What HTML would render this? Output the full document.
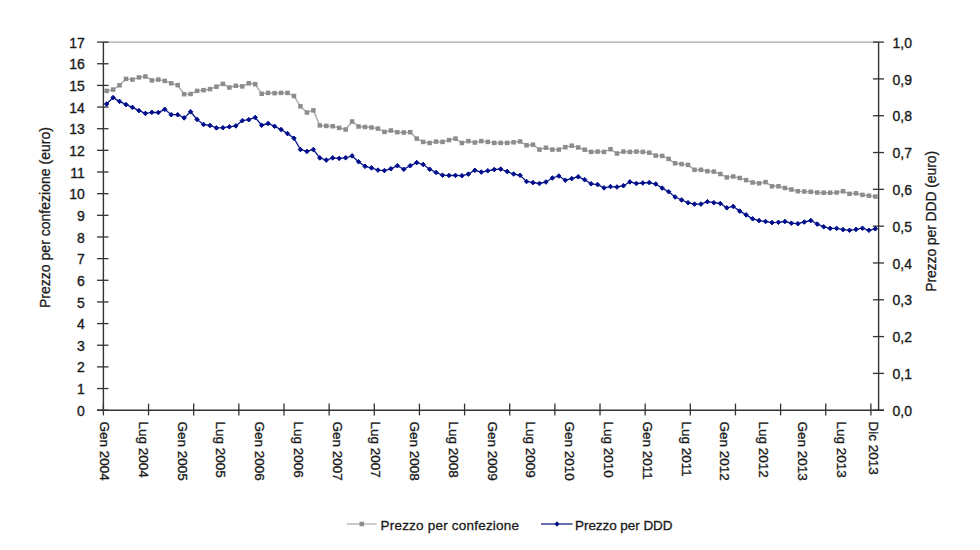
<!DOCTYPE html><html><head><meta charset="utf-8"><style>html,body{margin:0;padding:0;background:#fff;}svg{display:block;}text{font-family:"Liberation Sans",sans-serif;fill:#1a1a1a;}.t{stroke:#1a1a1a;stroke-width:0.35px;}.b{stroke:#1a1a1a;stroke-width:0.3px;}</style></head><body>
<svg width="980" height="550" viewBox="0 0 980 550">
<rect width="980" height="550" fill="#fff"/>
<line x1="103.4" y1="42.1" x2="878.6" y2="42.1" stroke="#a8a8a8" stroke-width="1.3"/>
<line x1="103.4" y1="42.1" x2="103.4" y2="410.2" stroke="#333" stroke-width="1.4"/>
<line x1="878.6" y1="42.1" x2="878.6" y2="410.2" stroke="#333" stroke-width="1.4"/>
<line x1="97" y1="410.2" x2="884" y2="410.2" stroke="#333" stroke-width="1.4"/>
<line x1="97" y1="410.20" x2="108.5" y2="410.20" stroke="#333" stroke-width="1.3"/>
<text x="84.9" y="415.80" font-size="14" text-anchor="end" class="t">0</text>
<line x1="97" y1="388.55" x2="108.5" y2="388.55" stroke="#333" stroke-width="1.3"/>
<text x="84.9" y="394.15" font-size="14" text-anchor="end" class="t">1</text>
<line x1="97" y1="366.89" x2="108.5" y2="366.89" stroke="#333" stroke-width="1.3"/>
<text x="84.9" y="372.49" font-size="14" text-anchor="end" class="t">2</text>
<line x1="97" y1="345.24" x2="108.5" y2="345.24" stroke="#333" stroke-width="1.3"/>
<text x="84.9" y="350.84" font-size="14" text-anchor="end" class="t">3</text>
<line x1="97" y1="323.59" x2="108.5" y2="323.59" stroke="#333" stroke-width="1.3"/>
<text x="84.9" y="329.19" font-size="14" text-anchor="end" class="t">4</text>
<line x1="97" y1="301.94" x2="108.5" y2="301.94" stroke="#333" stroke-width="1.3"/>
<text x="84.9" y="307.54" font-size="14" text-anchor="end" class="t">5</text>
<line x1="97" y1="280.28" x2="108.5" y2="280.28" stroke="#333" stroke-width="1.3"/>
<text x="84.9" y="285.88" font-size="14" text-anchor="end" class="t">6</text>
<line x1="97" y1="258.63" x2="108.5" y2="258.63" stroke="#333" stroke-width="1.3"/>
<text x="84.9" y="264.23" font-size="14" text-anchor="end" class="t">7</text>
<line x1="97" y1="236.98" x2="108.5" y2="236.98" stroke="#333" stroke-width="1.3"/>
<text x="84.9" y="242.58" font-size="14" text-anchor="end" class="t">8</text>
<line x1="97" y1="215.32" x2="108.5" y2="215.32" stroke="#333" stroke-width="1.3"/>
<text x="84.9" y="220.92" font-size="14" text-anchor="end" class="t">9</text>
<line x1="97" y1="193.67" x2="108.5" y2="193.67" stroke="#333" stroke-width="1.3"/>
<text x="84.9" y="199.27" font-size="14" text-anchor="end" class="t">10</text>
<line x1="97" y1="172.02" x2="108.5" y2="172.02" stroke="#333" stroke-width="1.3"/>
<text x="84.9" y="177.62" font-size="14" text-anchor="end" class="t">11</text>
<line x1="97" y1="150.36" x2="108.5" y2="150.36" stroke="#333" stroke-width="1.3"/>
<text x="84.9" y="155.96" font-size="14" text-anchor="end" class="t">12</text>
<line x1="97" y1="128.71" x2="108.5" y2="128.71" stroke="#333" stroke-width="1.3"/>
<text x="84.9" y="134.31" font-size="14" text-anchor="end" class="t">13</text>
<line x1="97" y1="107.06" x2="108.5" y2="107.06" stroke="#333" stroke-width="1.3"/>
<text x="84.9" y="112.66" font-size="14" text-anchor="end" class="t">14</text>
<line x1="97" y1="85.41" x2="108.5" y2="85.41" stroke="#333" stroke-width="1.3"/>
<text x="84.9" y="91.01" font-size="14" text-anchor="end" class="t">15</text>
<line x1="97" y1="63.75" x2="108.5" y2="63.75" stroke="#333" stroke-width="1.3"/>
<text x="84.9" y="69.35" font-size="14" text-anchor="end" class="t">16</text>
<line x1="97" y1="42.10" x2="108.5" y2="42.10" stroke="#333" stroke-width="1.3"/>
<text x="84.9" y="47.70" font-size="14" text-anchor="end" class="t">17</text>
<line x1="873" y1="410.20" x2="884" y2="410.20" stroke="#333" stroke-width="1.3"/>
<text x="892.5" y="415.80" font-size="14" class="t">0,0</text>
<line x1="873" y1="373.39" x2="884" y2="373.39" stroke="#333" stroke-width="1.3"/>
<text x="892.5" y="378.99" font-size="14" class="t">0,1</text>
<line x1="873" y1="336.58" x2="884" y2="336.58" stroke="#333" stroke-width="1.3"/>
<text x="892.5" y="342.18" font-size="14" class="t">0,2</text>
<line x1="873" y1="299.77" x2="884" y2="299.77" stroke="#333" stroke-width="1.3"/>
<text x="892.5" y="305.37" font-size="14" class="t">0,3</text>
<line x1="873" y1="262.96" x2="884" y2="262.96" stroke="#333" stroke-width="1.3"/>
<text x="892.5" y="268.56" font-size="14" class="t">0,4</text>
<line x1="873" y1="226.15" x2="884" y2="226.15" stroke="#333" stroke-width="1.3"/>
<text x="892.5" y="231.75" font-size="14" class="t">0,5</text>
<line x1="873" y1="189.34" x2="884" y2="189.34" stroke="#333" stroke-width="1.3"/>
<text x="892.5" y="194.94" font-size="14" class="t">0,6</text>
<line x1="873" y1="152.53" x2="884" y2="152.53" stroke="#333" stroke-width="1.3"/>
<text x="892.5" y="158.13" font-size="14" class="t">0,7</text>
<line x1="873" y1="115.72" x2="884" y2="115.72" stroke="#333" stroke-width="1.3"/>
<text x="892.5" y="121.32" font-size="14" class="t">0,8</text>
<line x1="873" y1="78.91" x2="884" y2="78.91" stroke="#333" stroke-width="1.3"/>
<text x="892.5" y="84.51" font-size="14" class="t">0,9</text>
<line x1="873" y1="42.10" x2="884" y2="42.10" stroke="#333" stroke-width="1.3"/>
<text x="892.5" y="47.70" font-size="14" class="t">1,0</text>
<line x1="103.40" y1="403.6" x2="103.40" y2="415.4" stroke="#333" stroke-width="1.3"/>
<line x1="148.55" y1="403.6" x2="148.55" y2="415.4" stroke="#333" stroke-width="1.3"/>
<line x1="193.69" y1="403.6" x2="193.69" y2="415.4" stroke="#333" stroke-width="1.3"/>
<line x1="238.84" y1="403.6" x2="238.84" y2="415.4" stroke="#333" stroke-width="1.3"/>
<line x1="283.99" y1="403.6" x2="283.99" y2="415.4" stroke="#333" stroke-width="1.3"/>
<line x1="329.14" y1="403.6" x2="329.14" y2="415.4" stroke="#333" stroke-width="1.3"/>
<line x1="374.28" y1="403.6" x2="374.28" y2="415.4" stroke="#333" stroke-width="1.3"/>
<line x1="419.43" y1="403.6" x2="419.43" y2="415.4" stroke="#333" stroke-width="1.3"/>
<line x1="464.58" y1="403.6" x2="464.58" y2="415.4" stroke="#333" stroke-width="1.3"/>
<line x1="509.72" y1="403.6" x2="509.72" y2="415.4" stroke="#333" stroke-width="1.3"/>
<line x1="554.87" y1="403.6" x2="554.87" y2="415.4" stroke="#333" stroke-width="1.3"/>
<line x1="600.02" y1="403.6" x2="600.02" y2="415.4" stroke="#333" stroke-width="1.3"/>
<line x1="645.16" y1="403.6" x2="645.16" y2="415.4" stroke="#333" stroke-width="1.3"/>
<line x1="690.31" y1="403.6" x2="690.31" y2="415.4" stroke="#333" stroke-width="1.3"/>
<line x1="735.46" y1="403.6" x2="735.46" y2="415.4" stroke="#333" stroke-width="1.3"/>
<line x1="780.61" y1="403.6" x2="780.61" y2="415.4" stroke="#333" stroke-width="1.3"/>
<line x1="825.75" y1="403.6" x2="825.75" y2="415.4" stroke="#333" stroke-width="1.3"/>
<line x1="870.90" y1="403.6" x2="870.90" y2="415.4" stroke="#333" stroke-width="1.3"/>
<text transform="translate(100.13,421.5) rotate(90)" font-size="13.5" class="t">Gen 2004</text>
<text transform="translate(138.89,421.5) rotate(90)" font-size="13.5" class="t">Lug 2004</text>
<text transform="translate(177.65,421.5) rotate(90)" font-size="13.5" class="t">Gen 2005</text>
<text transform="translate(216.41,421.5) rotate(90)" font-size="13.5" class="t">Lug 2005</text>
<text transform="translate(255.17,421.5) rotate(90)" font-size="13.5" class="t">Gen 2006</text>
<text transform="translate(293.93,421.5) rotate(90)" font-size="13.5" class="t">Lug 2006</text>
<text transform="translate(332.69,421.5) rotate(90)" font-size="13.5" class="t">Gen 2007</text>
<text transform="translate(371.45,421.5) rotate(90)" font-size="13.5" class="t">Lug 2007</text>
<text transform="translate(410.21,421.5) rotate(90)" font-size="13.5" class="t">Gen 2008</text>
<text transform="translate(448.97,421.5) rotate(90)" font-size="13.5" class="t">Lug 2008</text>
<text transform="translate(487.73,421.5) rotate(90)" font-size="13.5" class="t">Gen 2009</text>
<text transform="translate(526.49,421.5) rotate(90)" font-size="13.5" class="t">Lug 2009</text>
<text transform="translate(565.25,421.5) rotate(90)" font-size="13.5" class="t">Gen 2010</text>
<text transform="translate(604.01,421.5) rotate(90)" font-size="13.5" class="t">Lug 2010</text>
<text transform="translate(642.77,421.5) rotate(90)" font-size="13.5" class="t">Gen 2011</text>
<text transform="translate(681.53,421.5) rotate(90)" font-size="13.5" class="t">Lug 2011</text>
<text transform="translate(720.29,421.5) rotate(90)" font-size="13.5" class="t">Gen 2012</text>
<text transform="translate(759.05,421.5) rotate(90)" font-size="13.5" class="t">Lug 2012</text>
<text transform="translate(797.81,421.5) rotate(90)" font-size="13.5" class="t">Gen 2013</text>
<text transform="translate(836.57,421.5) rotate(90)" font-size="13.5" class="t">Lug 2013</text>
<text transform="translate(868.87,421.5) rotate(90)" font-size="13.5" class="t">Dic 2013</text>
<text transform="translate(50.4,217.55) rotate(-90)" font-size="14" class="b" text-anchor="middle" textLength="181" lengthAdjust="spacing">Prezzo per confezione (euro)</text>
<text transform="translate(936.2,221.35) rotate(-90)" font-size="14" class="b" text-anchor="middle" textLength="141" lengthAdjust="spacing">Prezzo per DDD (euro)</text>
<polyline points="106.63,90.90 113.09,89.60 119.55,85.30 126.01,78.90 132.47,79.60 138.93,77.40 145.39,76.50 151.85,80.40 158.31,79.60 164.77,80.90 171.23,83.30 177.69,85.10 184.15,94.20 190.61,94.00 197.07,90.90 203.53,90.20 209.99,89.10 216.45,86.70 222.91,83.90 229.37,87.50 235.83,85.80 242.29,86.40 248.75,83.30 255.21,84.20 261.67,93.80 268.13,92.90 274.59,93.20 281.05,92.90 287.51,92.90 293.97,96.00 300.43,106.30 306.89,112.50 313.35,110.40 319.81,125.40 326.27,125.90 332.73,126.20 339.19,127.90 345.65,129.50 352.11,121.50 358.57,126.50 365.03,127.00 371.49,127.50 377.95,128.60 384.41,131.90 390.87,130.50 397.33,132.20 403.79,132.50 410.25,132.20 416.71,138.60 423.17,141.90 429.63,143.00 436.09,141.60 442.55,141.90 449.01,140.10 455.47,138.60 461.93,143.00 468.39,141.10 474.85,142.50 481.31,141.10 487.77,141.90 494.23,142.90 500.69,142.90 507.15,142.90 513.61,142.30 520.07,141.50 526.53,145.30 532.99,144.70 539.45,149.60 545.91,147.70 552.37,149.60 558.83,149.60 565.29,147.20 571.75,145.70 578.21,147.50 584.67,149.70 591.13,151.90 597.59,151.60 604.05,151.90 610.51,149.20 616.97,153.50 623.43,151.60 629.89,151.90 636.35,151.60 642.81,151.90 649.27,152.70 655.73,155.60 662.19,155.90 668.65,158.90 675.11,163.30 681.57,164.10 688.03,164.90 694.49,169.80 700.95,169.80 707.41,171.20 713.87,171.60 720.33,174.00 726.79,177.40 733.25,176.50 739.71,178.00 746.17,180.10 752.63,182.50 759.09,183.30 765.55,182.10 772.01,186.30 778.47,186.30 784.93,188.00 791.39,189.50 797.85,191.20 804.31,191.50 810.77,191.80 817.23,192.50 823.69,192.70 830.15,192.70 836.61,192.50 843.07,191.30 849.53,193.90 855.99,193.30 862.45,194.90 868.91,195.70 875.37,196.60" fill="none" stroke="#a8a8a8" stroke-width="1.4"/>
<rect x="104.38" y="88.65" width="4.5" height="4.5" fill="#8c8c8c"/>
<rect x="110.84" y="87.35" width="4.5" height="4.5" fill="#8c8c8c"/>
<rect x="117.30" y="83.05" width="4.5" height="4.5" fill="#8c8c8c"/>
<rect x="123.76" y="76.65" width="4.5" height="4.5" fill="#8c8c8c"/>
<rect x="130.22" y="77.35" width="4.5" height="4.5" fill="#8c8c8c"/>
<rect x="136.68" y="75.15" width="4.5" height="4.5" fill="#8c8c8c"/>
<rect x="143.14" y="74.25" width="4.5" height="4.5" fill="#8c8c8c"/>
<rect x="149.60" y="78.15" width="4.5" height="4.5" fill="#8c8c8c"/>
<rect x="156.06" y="77.35" width="4.5" height="4.5" fill="#8c8c8c"/>
<rect x="162.52" y="78.65" width="4.5" height="4.5" fill="#8c8c8c"/>
<rect x="168.98" y="81.05" width="4.5" height="4.5" fill="#8c8c8c"/>
<rect x="175.44" y="82.85" width="4.5" height="4.5" fill="#8c8c8c"/>
<rect x="181.90" y="91.95" width="4.5" height="4.5" fill="#8c8c8c"/>
<rect x="188.36" y="91.75" width="4.5" height="4.5" fill="#8c8c8c"/>
<rect x="194.82" y="88.65" width="4.5" height="4.5" fill="#8c8c8c"/>
<rect x="201.28" y="87.95" width="4.5" height="4.5" fill="#8c8c8c"/>
<rect x="207.74" y="86.85" width="4.5" height="4.5" fill="#8c8c8c"/>
<rect x="214.20" y="84.45" width="4.5" height="4.5" fill="#8c8c8c"/>
<rect x="220.66" y="81.65" width="4.5" height="4.5" fill="#8c8c8c"/>
<rect x="227.12" y="85.25" width="4.5" height="4.5" fill="#8c8c8c"/>
<rect x="233.58" y="83.55" width="4.5" height="4.5" fill="#8c8c8c"/>
<rect x="240.04" y="84.15" width="4.5" height="4.5" fill="#8c8c8c"/>
<rect x="246.50" y="81.05" width="4.5" height="4.5" fill="#8c8c8c"/>
<rect x="252.96" y="81.95" width="4.5" height="4.5" fill="#8c8c8c"/>
<rect x="259.42" y="91.55" width="4.5" height="4.5" fill="#8c8c8c"/>
<rect x="265.88" y="90.65" width="4.5" height="4.5" fill="#8c8c8c"/>
<rect x="272.34" y="90.95" width="4.5" height="4.5" fill="#8c8c8c"/>
<rect x="278.80" y="90.65" width="4.5" height="4.5" fill="#8c8c8c"/>
<rect x="285.26" y="90.65" width="4.5" height="4.5" fill="#8c8c8c"/>
<rect x="291.72" y="93.75" width="4.5" height="4.5" fill="#8c8c8c"/>
<rect x="298.18" y="104.05" width="4.5" height="4.5" fill="#8c8c8c"/>
<rect x="304.64" y="110.25" width="4.5" height="4.5" fill="#8c8c8c"/>
<rect x="311.10" y="108.15" width="4.5" height="4.5" fill="#8c8c8c"/>
<rect x="317.56" y="123.15" width="4.5" height="4.5" fill="#8c8c8c"/>
<rect x="324.02" y="123.65" width="4.5" height="4.5" fill="#8c8c8c"/>
<rect x="330.48" y="123.95" width="4.5" height="4.5" fill="#8c8c8c"/>
<rect x="336.94" y="125.65" width="4.5" height="4.5" fill="#8c8c8c"/>
<rect x="343.40" y="127.25" width="4.5" height="4.5" fill="#8c8c8c"/>
<rect x="349.86" y="119.25" width="4.5" height="4.5" fill="#8c8c8c"/>
<rect x="356.32" y="124.25" width="4.5" height="4.5" fill="#8c8c8c"/>
<rect x="362.78" y="124.75" width="4.5" height="4.5" fill="#8c8c8c"/>
<rect x="369.24" y="125.25" width="4.5" height="4.5" fill="#8c8c8c"/>
<rect x="375.70" y="126.35" width="4.5" height="4.5" fill="#8c8c8c"/>
<rect x="382.16" y="129.65" width="4.5" height="4.5" fill="#8c8c8c"/>
<rect x="388.62" y="128.25" width="4.5" height="4.5" fill="#8c8c8c"/>
<rect x="395.08" y="129.95" width="4.5" height="4.5" fill="#8c8c8c"/>
<rect x="401.54" y="130.25" width="4.5" height="4.5" fill="#8c8c8c"/>
<rect x="408.00" y="129.95" width="4.5" height="4.5" fill="#8c8c8c"/>
<rect x="414.46" y="136.35" width="4.5" height="4.5" fill="#8c8c8c"/>
<rect x="420.92" y="139.65" width="4.5" height="4.5" fill="#8c8c8c"/>
<rect x="427.38" y="140.75" width="4.5" height="4.5" fill="#8c8c8c"/>
<rect x="433.84" y="139.35" width="4.5" height="4.5" fill="#8c8c8c"/>
<rect x="440.30" y="139.65" width="4.5" height="4.5" fill="#8c8c8c"/>
<rect x="446.76" y="137.85" width="4.5" height="4.5" fill="#8c8c8c"/>
<rect x="453.22" y="136.35" width="4.5" height="4.5" fill="#8c8c8c"/>
<rect x="459.68" y="140.75" width="4.5" height="4.5" fill="#8c8c8c"/>
<rect x="466.14" y="138.85" width="4.5" height="4.5" fill="#8c8c8c"/>
<rect x="472.60" y="140.25" width="4.5" height="4.5" fill="#8c8c8c"/>
<rect x="479.06" y="138.85" width="4.5" height="4.5" fill="#8c8c8c"/>
<rect x="485.52" y="139.65" width="4.5" height="4.5" fill="#8c8c8c"/>
<rect x="491.98" y="140.65" width="4.5" height="4.5" fill="#8c8c8c"/>
<rect x="498.44" y="140.65" width="4.5" height="4.5" fill="#8c8c8c"/>
<rect x="504.90" y="140.65" width="4.5" height="4.5" fill="#8c8c8c"/>
<rect x="511.36" y="140.05" width="4.5" height="4.5" fill="#8c8c8c"/>
<rect x="517.82" y="139.25" width="4.5" height="4.5" fill="#8c8c8c"/>
<rect x="524.28" y="143.05" width="4.5" height="4.5" fill="#8c8c8c"/>
<rect x="530.74" y="142.45" width="4.5" height="4.5" fill="#8c8c8c"/>
<rect x="537.20" y="147.35" width="4.5" height="4.5" fill="#8c8c8c"/>
<rect x="543.66" y="145.45" width="4.5" height="4.5" fill="#8c8c8c"/>
<rect x="550.12" y="147.35" width="4.5" height="4.5" fill="#8c8c8c"/>
<rect x="556.58" y="147.35" width="4.5" height="4.5" fill="#8c8c8c"/>
<rect x="563.04" y="144.95" width="4.5" height="4.5" fill="#8c8c8c"/>
<rect x="569.50" y="143.45" width="4.5" height="4.5" fill="#8c8c8c"/>
<rect x="575.96" y="145.25" width="4.5" height="4.5" fill="#8c8c8c"/>
<rect x="582.42" y="147.45" width="4.5" height="4.5" fill="#8c8c8c"/>
<rect x="588.88" y="149.65" width="4.5" height="4.5" fill="#8c8c8c"/>
<rect x="595.34" y="149.35" width="4.5" height="4.5" fill="#8c8c8c"/>
<rect x="601.80" y="149.65" width="4.5" height="4.5" fill="#8c8c8c"/>
<rect x="608.26" y="146.95" width="4.5" height="4.5" fill="#8c8c8c"/>
<rect x="614.72" y="151.25" width="4.5" height="4.5" fill="#8c8c8c"/>
<rect x="621.18" y="149.35" width="4.5" height="4.5" fill="#8c8c8c"/>
<rect x="627.64" y="149.65" width="4.5" height="4.5" fill="#8c8c8c"/>
<rect x="634.10" y="149.35" width="4.5" height="4.5" fill="#8c8c8c"/>
<rect x="640.56" y="149.65" width="4.5" height="4.5" fill="#8c8c8c"/>
<rect x="647.02" y="150.45" width="4.5" height="4.5" fill="#8c8c8c"/>
<rect x="653.48" y="153.35" width="4.5" height="4.5" fill="#8c8c8c"/>
<rect x="659.94" y="153.65" width="4.5" height="4.5" fill="#8c8c8c"/>
<rect x="666.40" y="156.65" width="4.5" height="4.5" fill="#8c8c8c"/>
<rect x="672.86" y="161.05" width="4.5" height="4.5" fill="#8c8c8c"/>
<rect x="679.32" y="161.85" width="4.5" height="4.5" fill="#8c8c8c"/>
<rect x="685.78" y="162.65" width="4.5" height="4.5" fill="#8c8c8c"/>
<rect x="692.24" y="167.55" width="4.5" height="4.5" fill="#8c8c8c"/>
<rect x="698.70" y="167.55" width="4.5" height="4.5" fill="#8c8c8c"/>
<rect x="705.16" y="168.95" width="4.5" height="4.5" fill="#8c8c8c"/>
<rect x="711.62" y="169.35" width="4.5" height="4.5" fill="#8c8c8c"/>
<rect x="718.08" y="171.75" width="4.5" height="4.5" fill="#8c8c8c"/>
<rect x="724.54" y="175.15" width="4.5" height="4.5" fill="#8c8c8c"/>
<rect x="731.00" y="174.25" width="4.5" height="4.5" fill="#8c8c8c"/>
<rect x="737.46" y="175.75" width="4.5" height="4.5" fill="#8c8c8c"/>
<rect x="743.92" y="177.85" width="4.5" height="4.5" fill="#8c8c8c"/>
<rect x="750.38" y="180.25" width="4.5" height="4.5" fill="#8c8c8c"/>
<rect x="756.84" y="181.05" width="4.5" height="4.5" fill="#8c8c8c"/>
<rect x="763.30" y="179.85" width="4.5" height="4.5" fill="#8c8c8c"/>
<rect x="769.76" y="184.05" width="4.5" height="4.5" fill="#8c8c8c"/>
<rect x="776.22" y="184.05" width="4.5" height="4.5" fill="#8c8c8c"/>
<rect x="782.68" y="185.75" width="4.5" height="4.5" fill="#8c8c8c"/>
<rect x="789.14" y="187.25" width="4.5" height="4.5" fill="#8c8c8c"/>
<rect x="795.60" y="188.95" width="4.5" height="4.5" fill="#8c8c8c"/>
<rect x="802.06" y="189.25" width="4.5" height="4.5" fill="#8c8c8c"/>
<rect x="808.52" y="189.55" width="4.5" height="4.5" fill="#8c8c8c"/>
<rect x="814.98" y="190.25" width="4.5" height="4.5" fill="#8c8c8c"/>
<rect x="821.44" y="190.45" width="4.5" height="4.5" fill="#8c8c8c"/>
<rect x="827.90" y="190.45" width="4.5" height="4.5" fill="#8c8c8c"/>
<rect x="834.36" y="190.25" width="4.5" height="4.5" fill="#8c8c8c"/>
<rect x="840.82" y="189.05" width="4.5" height="4.5" fill="#8c8c8c"/>
<rect x="847.28" y="191.65" width="4.5" height="4.5" fill="#8c8c8c"/>
<rect x="853.74" y="191.05" width="4.5" height="4.5" fill="#8c8c8c"/>
<rect x="860.20" y="192.65" width="4.5" height="4.5" fill="#8c8c8c"/>
<rect x="866.66" y="193.45" width="4.5" height="4.5" fill="#8c8c8c"/>
<rect x="873.12" y="194.35" width="4.5" height="4.5" fill="#8c8c8c"/>
<polyline points="106.63,104.00 113.09,97.60 119.55,101.40 126.01,104.60 132.47,107.40 138.93,110.60 145.39,113.40 151.85,112.30 158.31,112.50 164.77,109.30 171.23,114.70 177.69,114.70 184.15,117.90 190.61,111.80 197.07,119.50 203.53,124.50 209.99,125.50 216.45,127.90 222.91,127.70 229.37,126.80 235.83,125.90 242.29,120.70 248.75,119.70 255.21,117.50 261.67,125.20 268.13,123.50 274.59,126.30 281.05,129.50 287.51,133.60 293.97,138.30 300.43,149.50 306.89,151.40 313.35,149.50 319.81,157.90 326.27,160.10 332.73,157.90 339.19,158.40 345.65,157.80 352.11,155.90 358.57,161.70 365.03,166.30 371.49,167.90 377.95,170.10 384.41,170.60 390.87,168.80 397.33,165.70 403.79,169.30 410.25,165.70 416.71,162.60 423.17,164.50 429.63,169.20 436.09,172.50 442.55,175.20 449.01,175.50 455.47,175.40 461.93,175.70 468.39,174.10 474.85,170.30 481.31,172.10 487.77,170.80 494.23,169.50 500.69,169.10 507.15,171.50 513.61,174.00 520.07,175.30 526.53,181.50 532.99,182.60 539.45,183.50 545.91,182.00 552.37,178.00 558.83,176.00 565.29,180.20 571.75,178.60 578.21,176.80 584.67,179.70 591.13,183.80 597.59,184.60 604.05,187.90 610.51,186.60 616.97,187.00 623.43,185.70 629.89,181.90 636.35,183.50 642.81,183.00 649.27,182.60 655.73,184.00 662.19,188.10 668.65,191.70 675.11,197.00 681.57,200.00 688.03,202.70 694.49,204.10 700.95,204.10 707.41,201.70 713.87,202.70 720.33,203.50 726.79,207.80 733.25,206.40 739.71,211.10 746.17,214.90 752.63,218.80 759.09,220.60 765.55,221.50 772.01,222.60 778.47,222.30 784.93,221.50 791.39,223.20 797.85,223.70 804.31,222.00 810.77,220.50 817.23,224.10 823.69,226.80 830.15,228.40 836.61,228.40 843.07,229.60 849.53,230.30 855.99,229.40 862.45,228.20 868.91,230.30 875.37,228.80" fill="none" stroke="#0a1890" stroke-width="1.3"/>
<path d="M106.63 101.70L108.83 104.00L106.63 106.30L104.43 104.00Z" fill="#000d8a" stroke="#000d8a" stroke-width="1.0" stroke-linejoin="round"/>
<path d="M113.09 95.30L115.29 97.60L113.09 99.90L110.89 97.60Z" fill="#000d8a" stroke="#000d8a" stroke-width="1.0" stroke-linejoin="round"/>
<path d="M119.55 99.10L121.75 101.40L119.55 103.70L117.35 101.40Z" fill="#000d8a" stroke="#000d8a" stroke-width="1.0" stroke-linejoin="round"/>
<path d="M126.01 102.30L128.21 104.60L126.01 106.90L123.81 104.60Z" fill="#000d8a" stroke="#000d8a" stroke-width="1.0" stroke-linejoin="round"/>
<path d="M132.47 105.10L134.67 107.40L132.47 109.70L130.27 107.40Z" fill="#000d8a" stroke="#000d8a" stroke-width="1.0" stroke-linejoin="round"/>
<path d="M138.93 108.30L141.13 110.60L138.93 112.90L136.73 110.60Z" fill="#000d8a" stroke="#000d8a" stroke-width="1.0" stroke-linejoin="round"/>
<path d="M145.39 111.10L147.59 113.40L145.39 115.70L143.19 113.40Z" fill="#000d8a" stroke="#000d8a" stroke-width="1.0" stroke-linejoin="round"/>
<path d="M151.85 110.00L154.05 112.30L151.85 114.60L149.65 112.30Z" fill="#000d8a" stroke="#000d8a" stroke-width="1.0" stroke-linejoin="round"/>
<path d="M158.31 110.20L160.51 112.50L158.31 114.80L156.11 112.50Z" fill="#000d8a" stroke="#000d8a" stroke-width="1.0" stroke-linejoin="round"/>
<path d="M164.77 107.00L166.97 109.30L164.77 111.60L162.57 109.30Z" fill="#000d8a" stroke="#000d8a" stroke-width="1.0" stroke-linejoin="round"/>
<path d="M171.23 112.40L173.43 114.70L171.23 117.00L169.03 114.70Z" fill="#000d8a" stroke="#000d8a" stroke-width="1.0" stroke-linejoin="round"/>
<path d="M177.69 112.40L179.89 114.70L177.69 117.00L175.49 114.70Z" fill="#000d8a" stroke="#000d8a" stroke-width="1.0" stroke-linejoin="round"/>
<path d="M184.15 115.60L186.35 117.90L184.15 120.20L181.95 117.90Z" fill="#000d8a" stroke="#000d8a" stroke-width="1.0" stroke-linejoin="round"/>
<path d="M190.61 109.50L192.81 111.80L190.61 114.10L188.41 111.80Z" fill="#000d8a" stroke="#000d8a" stroke-width="1.0" stroke-linejoin="round"/>
<path d="M197.07 117.20L199.27 119.50L197.07 121.80L194.87 119.50Z" fill="#000d8a" stroke="#000d8a" stroke-width="1.0" stroke-linejoin="round"/>
<path d="M203.53 122.20L205.73 124.50L203.53 126.80L201.33 124.50Z" fill="#000d8a" stroke="#000d8a" stroke-width="1.0" stroke-linejoin="round"/>
<path d="M209.99 123.20L212.19 125.50L209.99 127.80L207.79 125.50Z" fill="#000d8a" stroke="#000d8a" stroke-width="1.0" stroke-linejoin="round"/>
<path d="M216.45 125.60L218.65 127.90L216.45 130.20L214.25 127.90Z" fill="#000d8a" stroke="#000d8a" stroke-width="1.0" stroke-linejoin="round"/>
<path d="M222.91 125.40L225.11 127.70L222.91 130.00L220.71 127.70Z" fill="#000d8a" stroke="#000d8a" stroke-width="1.0" stroke-linejoin="round"/>
<path d="M229.37 124.50L231.57 126.80L229.37 129.10L227.17 126.80Z" fill="#000d8a" stroke="#000d8a" stroke-width="1.0" stroke-linejoin="round"/>
<path d="M235.83 123.60L238.03 125.90L235.83 128.20L233.63 125.90Z" fill="#000d8a" stroke="#000d8a" stroke-width="1.0" stroke-linejoin="round"/>
<path d="M242.29 118.40L244.49 120.70L242.29 123.00L240.09 120.70Z" fill="#000d8a" stroke="#000d8a" stroke-width="1.0" stroke-linejoin="round"/>
<path d="M248.75 117.40L250.95 119.70L248.75 122.00L246.55 119.70Z" fill="#000d8a" stroke="#000d8a" stroke-width="1.0" stroke-linejoin="round"/>
<path d="M255.21 115.20L257.41 117.50L255.21 119.80L253.01 117.50Z" fill="#000d8a" stroke="#000d8a" stroke-width="1.0" stroke-linejoin="round"/>
<path d="M261.67 122.90L263.87 125.20L261.67 127.50L259.47 125.20Z" fill="#000d8a" stroke="#000d8a" stroke-width="1.0" stroke-linejoin="round"/>
<path d="M268.13 121.20L270.33 123.50L268.13 125.80L265.93 123.50Z" fill="#000d8a" stroke="#000d8a" stroke-width="1.0" stroke-linejoin="round"/>
<path d="M274.59 124.00L276.79 126.30L274.59 128.60L272.39 126.30Z" fill="#000d8a" stroke="#000d8a" stroke-width="1.0" stroke-linejoin="round"/>
<path d="M281.05 127.20L283.25 129.50L281.05 131.80L278.85 129.50Z" fill="#000d8a" stroke="#000d8a" stroke-width="1.0" stroke-linejoin="round"/>
<path d="M287.51 131.30L289.71 133.60L287.51 135.90L285.31 133.60Z" fill="#000d8a" stroke="#000d8a" stroke-width="1.0" stroke-linejoin="round"/>
<path d="M293.97 136.00L296.17 138.30L293.97 140.60L291.77 138.30Z" fill="#000d8a" stroke="#000d8a" stroke-width="1.0" stroke-linejoin="round"/>
<path d="M300.43 147.20L302.63 149.50L300.43 151.80L298.23 149.50Z" fill="#000d8a" stroke="#000d8a" stroke-width="1.0" stroke-linejoin="round"/>
<path d="M306.89 149.10L309.09 151.40L306.89 153.70L304.69 151.40Z" fill="#000d8a" stroke="#000d8a" stroke-width="1.0" stroke-linejoin="round"/>
<path d="M313.35 147.20L315.55 149.50L313.35 151.80L311.15 149.50Z" fill="#000d8a" stroke="#000d8a" stroke-width="1.0" stroke-linejoin="round"/>
<path d="M319.81 155.60L322.01 157.90L319.81 160.20L317.61 157.90Z" fill="#000d8a" stroke="#000d8a" stroke-width="1.0" stroke-linejoin="round"/>
<path d="M326.27 157.80L328.47 160.10L326.27 162.40L324.07 160.10Z" fill="#000d8a" stroke="#000d8a" stroke-width="1.0" stroke-linejoin="round"/>
<path d="M332.73 155.60L334.93 157.90L332.73 160.20L330.53 157.90Z" fill="#000d8a" stroke="#000d8a" stroke-width="1.0" stroke-linejoin="round"/>
<path d="M339.19 156.10L341.39 158.40L339.19 160.70L336.99 158.40Z" fill="#000d8a" stroke="#000d8a" stroke-width="1.0" stroke-linejoin="round"/>
<path d="M345.65 155.50L347.85 157.80L345.65 160.10L343.45 157.80Z" fill="#000d8a" stroke="#000d8a" stroke-width="1.0" stroke-linejoin="round"/>
<path d="M352.11 153.60L354.31 155.90L352.11 158.20L349.91 155.90Z" fill="#000d8a" stroke="#000d8a" stroke-width="1.0" stroke-linejoin="round"/>
<path d="M358.57 159.40L360.77 161.70L358.57 164.00L356.37 161.70Z" fill="#000d8a" stroke="#000d8a" stroke-width="1.0" stroke-linejoin="round"/>
<path d="M365.03 164.00L367.23 166.30L365.03 168.60L362.83 166.30Z" fill="#000d8a" stroke="#000d8a" stroke-width="1.0" stroke-linejoin="round"/>
<path d="M371.49 165.60L373.69 167.90L371.49 170.20L369.29 167.90Z" fill="#000d8a" stroke="#000d8a" stroke-width="1.0" stroke-linejoin="round"/>
<path d="M377.95 167.80L380.15 170.10L377.95 172.40L375.75 170.10Z" fill="#000d8a" stroke="#000d8a" stroke-width="1.0" stroke-linejoin="round"/>
<path d="M384.41 168.30L386.61 170.60L384.41 172.90L382.21 170.60Z" fill="#000d8a" stroke="#000d8a" stroke-width="1.0" stroke-linejoin="round"/>
<path d="M390.87 166.50L393.07 168.80L390.87 171.10L388.67 168.80Z" fill="#000d8a" stroke="#000d8a" stroke-width="1.0" stroke-linejoin="round"/>
<path d="M397.33 163.40L399.53 165.70L397.33 168.00L395.13 165.70Z" fill="#000d8a" stroke="#000d8a" stroke-width="1.0" stroke-linejoin="round"/>
<path d="M403.79 167.00L405.99 169.30L403.79 171.60L401.59 169.30Z" fill="#000d8a" stroke="#000d8a" stroke-width="1.0" stroke-linejoin="round"/>
<path d="M410.25 163.40L412.45 165.70L410.25 168.00L408.05 165.70Z" fill="#000d8a" stroke="#000d8a" stroke-width="1.0" stroke-linejoin="round"/>
<path d="M416.71 160.30L418.91 162.60L416.71 164.90L414.51 162.60Z" fill="#000d8a" stroke="#000d8a" stroke-width="1.0" stroke-linejoin="round"/>
<path d="M423.17 162.20L425.37 164.50L423.17 166.80L420.97 164.50Z" fill="#000d8a" stroke="#000d8a" stroke-width="1.0" stroke-linejoin="round"/>
<path d="M429.63 166.90L431.83 169.20L429.63 171.50L427.43 169.20Z" fill="#000d8a" stroke="#000d8a" stroke-width="1.0" stroke-linejoin="round"/>
<path d="M436.09 170.20L438.29 172.50L436.09 174.80L433.89 172.50Z" fill="#000d8a" stroke="#000d8a" stroke-width="1.0" stroke-linejoin="round"/>
<path d="M442.55 172.90L444.75 175.20L442.55 177.50L440.35 175.20Z" fill="#000d8a" stroke="#000d8a" stroke-width="1.0" stroke-linejoin="round"/>
<path d="M449.01 173.20L451.21 175.50L449.01 177.80L446.81 175.50Z" fill="#000d8a" stroke="#000d8a" stroke-width="1.0" stroke-linejoin="round"/>
<path d="M455.47 173.10L457.67 175.40L455.47 177.70L453.27 175.40Z" fill="#000d8a" stroke="#000d8a" stroke-width="1.0" stroke-linejoin="round"/>
<path d="M461.93 173.40L464.13 175.70L461.93 178.00L459.73 175.70Z" fill="#000d8a" stroke="#000d8a" stroke-width="1.0" stroke-linejoin="round"/>
<path d="M468.39 171.80L470.59 174.10L468.39 176.40L466.19 174.10Z" fill="#000d8a" stroke="#000d8a" stroke-width="1.0" stroke-linejoin="round"/>
<path d="M474.85 168.00L477.05 170.30L474.85 172.60L472.65 170.30Z" fill="#000d8a" stroke="#000d8a" stroke-width="1.0" stroke-linejoin="round"/>
<path d="M481.31 169.80L483.51 172.10L481.31 174.40L479.11 172.10Z" fill="#000d8a" stroke="#000d8a" stroke-width="1.0" stroke-linejoin="round"/>
<path d="M487.77 168.50L489.97 170.80L487.77 173.10L485.57 170.80Z" fill="#000d8a" stroke="#000d8a" stroke-width="1.0" stroke-linejoin="round"/>
<path d="M494.23 167.20L496.43 169.50L494.23 171.80L492.03 169.50Z" fill="#000d8a" stroke="#000d8a" stroke-width="1.0" stroke-linejoin="round"/>
<path d="M500.69 166.80L502.89 169.10L500.69 171.40L498.49 169.10Z" fill="#000d8a" stroke="#000d8a" stroke-width="1.0" stroke-linejoin="round"/>
<path d="M507.15 169.20L509.35 171.50L507.15 173.80L504.95 171.50Z" fill="#000d8a" stroke="#000d8a" stroke-width="1.0" stroke-linejoin="round"/>
<path d="M513.61 171.70L515.81 174.00L513.61 176.30L511.41 174.00Z" fill="#000d8a" stroke="#000d8a" stroke-width="1.0" stroke-linejoin="round"/>
<path d="M520.07 173.00L522.27 175.30L520.07 177.60L517.87 175.30Z" fill="#000d8a" stroke="#000d8a" stroke-width="1.0" stroke-linejoin="round"/>
<path d="M526.53 179.20L528.73 181.50L526.53 183.80L524.33 181.50Z" fill="#000d8a" stroke="#000d8a" stroke-width="1.0" stroke-linejoin="round"/>
<path d="M532.99 180.30L535.19 182.60L532.99 184.90L530.79 182.60Z" fill="#000d8a" stroke="#000d8a" stroke-width="1.0" stroke-linejoin="round"/>
<path d="M539.45 181.20L541.65 183.50L539.45 185.80L537.25 183.50Z" fill="#000d8a" stroke="#000d8a" stroke-width="1.0" stroke-linejoin="round"/>
<path d="M545.91 179.70L548.11 182.00L545.91 184.30L543.71 182.00Z" fill="#000d8a" stroke="#000d8a" stroke-width="1.0" stroke-linejoin="round"/>
<path d="M552.37 175.70L554.57 178.00L552.37 180.30L550.17 178.00Z" fill="#000d8a" stroke="#000d8a" stroke-width="1.0" stroke-linejoin="round"/>
<path d="M558.83 173.70L561.03 176.00L558.83 178.30L556.63 176.00Z" fill="#000d8a" stroke="#000d8a" stroke-width="1.0" stroke-linejoin="round"/>
<path d="M565.29 177.90L567.49 180.20L565.29 182.50L563.09 180.20Z" fill="#000d8a" stroke="#000d8a" stroke-width="1.0" stroke-linejoin="round"/>
<path d="M571.75 176.30L573.95 178.60L571.75 180.90L569.55 178.60Z" fill="#000d8a" stroke="#000d8a" stroke-width="1.0" stroke-linejoin="round"/>
<path d="M578.21 174.50L580.41 176.80L578.21 179.10L576.01 176.80Z" fill="#000d8a" stroke="#000d8a" stroke-width="1.0" stroke-linejoin="round"/>
<path d="M584.67 177.40L586.87 179.70L584.67 182.00L582.47 179.70Z" fill="#000d8a" stroke="#000d8a" stroke-width="1.0" stroke-linejoin="round"/>
<path d="M591.13 181.50L593.33 183.80L591.13 186.10L588.93 183.80Z" fill="#000d8a" stroke="#000d8a" stroke-width="1.0" stroke-linejoin="round"/>
<path d="M597.59 182.30L599.79 184.60L597.59 186.90L595.39 184.60Z" fill="#000d8a" stroke="#000d8a" stroke-width="1.0" stroke-linejoin="round"/>
<path d="M604.05 185.60L606.25 187.90L604.05 190.20L601.85 187.90Z" fill="#000d8a" stroke="#000d8a" stroke-width="1.0" stroke-linejoin="round"/>
<path d="M610.51 184.30L612.71 186.60L610.51 188.90L608.31 186.60Z" fill="#000d8a" stroke="#000d8a" stroke-width="1.0" stroke-linejoin="round"/>
<path d="M616.97 184.70L619.17 187.00L616.97 189.30L614.77 187.00Z" fill="#000d8a" stroke="#000d8a" stroke-width="1.0" stroke-linejoin="round"/>
<path d="M623.43 183.40L625.63 185.70L623.43 188.00L621.23 185.70Z" fill="#000d8a" stroke="#000d8a" stroke-width="1.0" stroke-linejoin="round"/>
<path d="M629.89 179.60L632.09 181.90L629.89 184.20L627.69 181.90Z" fill="#000d8a" stroke="#000d8a" stroke-width="1.0" stroke-linejoin="round"/>
<path d="M636.35 181.20L638.55 183.50L636.35 185.80L634.15 183.50Z" fill="#000d8a" stroke="#000d8a" stroke-width="1.0" stroke-linejoin="round"/>
<path d="M642.81 180.70L645.01 183.00L642.81 185.30L640.61 183.00Z" fill="#000d8a" stroke="#000d8a" stroke-width="1.0" stroke-linejoin="round"/>
<path d="M649.27 180.30L651.47 182.60L649.27 184.90L647.07 182.60Z" fill="#000d8a" stroke="#000d8a" stroke-width="1.0" stroke-linejoin="round"/>
<path d="M655.73 181.70L657.93 184.00L655.73 186.30L653.53 184.00Z" fill="#000d8a" stroke="#000d8a" stroke-width="1.0" stroke-linejoin="round"/>
<path d="M662.19 185.80L664.39 188.10L662.19 190.40L659.99 188.10Z" fill="#000d8a" stroke="#000d8a" stroke-width="1.0" stroke-linejoin="round"/>
<path d="M668.65 189.40L670.85 191.70L668.65 194.00L666.45 191.70Z" fill="#000d8a" stroke="#000d8a" stroke-width="1.0" stroke-linejoin="round"/>
<path d="M675.11 194.70L677.31 197.00L675.11 199.30L672.91 197.00Z" fill="#000d8a" stroke="#000d8a" stroke-width="1.0" stroke-linejoin="round"/>
<path d="M681.57 197.70L683.77 200.00L681.57 202.30L679.37 200.00Z" fill="#000d8a" stroke="#000d8a" stroke-width="1.0" stroke-linejoin="round"/>
<path d="M688.03 200.40L690.23 202.70L688.03 205.00L685.83 202.70Z" fill="#000d8a" stroke="#000d8a" stroke-width="1.0" stroke-linejoin="round"/>
<path d="M694.49 201.80L696.69 204.10L694.49 206.40L692.29 204.10Z" fill="#000d8a" stroke="#000d8a" stroke-width="1.0" stroke-linejoin="round"/>
<path d="M700.95 201.80L703.15 204.10L700.95 206.40L698.75 204.10Z" fill="#000d8a" stroke="#000d8a" stroke-width="1.0" stroke-linejoin="round"/>
<path d="M707.41 199.40L709.61 201.70L707.41 204.00L705.21 201.70Z" fill="#000d8a" stroke="#000d8a" stroke-width="1.0" stroke-linejoin="round"/>
<path d="M713.87 200.40L716.07 202.70L713.87 205.00L711.67 202.70Z" fill="#000d8a" stroke="#000d8a" stroke-width="1.0" stroke-linejoin="round"/>
<path d="M720.33 201.20L722.53 203.50L720.33 205.80L718.13 203.50Z" fill="#000d8a" stroke="#000d8a" stroke-width="1.0" stroke-linejoin="round"/>
<path d="M726.79 205.50L728.99 207.80L726.79 210.10L724.59 207.80Z" fill="#000d8a" stroke="#000d8a" stroke-width="1.0" stroke-linejoin="round"/>
<path d="M733.25 204.10L735.45 206.40L733.25 208.70L731.05 206.40Z" fill="#000d8a" stroke="#000d8a" stroke-width="1.0" stroke-linejoin="round"/>
<path d="M739.71 208.80L741.91 211.10L739.71 213.40L737.51 211.10Z" fill="#000d8a" stroke="#000d8a" stroke-width="1.0" stroke-linejoin="round"/>
<path d="M746.17 212.60L748.37 214.90L746.17 217.20L743.97 214.90Z" fill="#000d8a" stroke="#000d8a" stroke-width="1.0" stroke-linejoin="round"/>
<path d="M752.63 216.50L754.83 218.80L752.63 221.10L750.43 218.80Z" fill="#000d8a" stroke="#000d8a" stroke-width="1.0" stroke-linejoin="round"/>
<path d="M759.09 218.30L761.29 220.60L759.09 222.90L756.89 220.60Z" fill="#000d8a" stroke="#000d8a" stroke-width="1.0" stroke-linejoin="round"/>
<path d="M765.55 219.20L767.75 221.50L765.55 223.80L763.35 221.50Z" fill="#000d8a" stroke="#000d8a" stroke-width="1.0" stroke-linejoin="round"/>
<path d="M772.01 220.30L774.21 222.60L772.01 224.90L769.81 222.60Z" fill="#000d8a" stroke="#000d8a" stroke-width="1.0" stroke-linejoin="round"/>
<path d="M778.47 220.00L780.67 222.30L778.47 224.60L776.27 222.30Z" fill="#000d8a" stroke="#000d8a" stroke-width="1.0" stroke-linejoin="round"/>
<path d="M784.93 219.20L787.13 221.50L784.93 223.80L782.73 221.50Z" fill="#000d8a" stroke="#000d8a" stroke-width="1.0" stroke-linejoin="round"/>
<path d="M791.39 220.90L793.59 223.20L791.39 225.50L789.19 223.20Z" fill="#000d8a" stroke="#000d8a" stroke-width="1.0" stroke-linejoin="round"/>
<path d="M797.85 221.40L800.05 223.70L797.85 226.00L795.65 223.70Z" fill="#000d8a" stroke="#000d8a" stroke-width="1.0" stroke-linejoin="round"/>
<path d="M804.31 219.70L806.51 222.00L804.31 224.30L802.11 222.00Z" fill="#000d8a" stroke="#000d8a" stroke-width="1.0" stroke-linejoin="round"/>
<path d="M810.77 218.20L812.97 220.50L810.77 222.80L808.57 220.50Z" fill="#000d8a" stroke="#000d8a" stroke-width="1.0" stroke-linejoin="round"/>
<path d="M817.23 221.80L819.43 224.10L817.23 226.40L815.03 224.10Z" fill="#000d8a" stroke="#000d8a" stroke-width="1.0" stroke-linejoin="round"/>
<path d="M823.69 224.50L825.89 226.80L823.69 229.10L821.49 226.80Z" fill="#000d8a" stroke="#000d8a" stroke-width="1.0" stroke-linejoin="round"/>
<path d="M830.15 226.10L832.35 228.40L830.15 230.70L827.95 228.40Z" fill="#000d8a" stroke="#000d8a" stroke-width="1.0" stroke-linejoin="round"/>
<path d="M836.61 226.10L838.81 228.40L836.61 230.70L834.41 228.40Z" fill="#000d8a" stroke="#000d8a" stroke-width="1.0" stroke-linejoin="round"/>
<path d="M843.07 227.30L845.27 229.60L843.07 231.90L840.87 229.60Z" fill="#000d8a" stroke="#000d8a" stroke-width="1.0" stroke-linejoin="round"/>
<path d="M849.53 228.00L851.73 230.30L849.53 232.60L847.33 230.30Z" fill="#000d8a" stroke="#000d8a" stroke-width="1.0" stroke-linejoin="round"/>
<path d="M855.99 227.10L858.19 229.40L855.99 231.70L853.79 229.40Z" fill="#000d8a" stroke="#000d8a" stroke-width="1.0" stroke-linejoin="round"/>
<path d="M862.45 225.90L864.65 228.20L862.45 230.50L860.25 228.20Z" fill="#000d8a" stroke="#000d8a" stroke-width="1.0" stroke-linejoin="round"/>
<path d="M868.91 228.00L871.11 230.30L868.91 232.60L866.71 230.30Z" fill="#000d8a" stroke="#000d8a" stroke-width="1.0" stroke-linejoin="round"/>
<path d="M875.37 226.50L877.57 228.80L875.37 231.10L873.17 228.80Z" fill="#000d8a" stroke="#000d8a" stroke-width="1.0" stroke-linejoin="round"/>
<line x1="347" y1="524" x2="376.5" y2="524" stroke="#a8a8a8" stroke-width="1.2"/>
<rect x="359.5" y="521.75" width="4.5" height="4.5" fill="#8c8c8c"/>
<text x="380.5" y="529.5" font-size="13.5" class="b" textLength="138.5" lengthAdjust="spacing">Prezzo per confezione</text>
<line x1="541" y1="524" x2="572.5" y2="524" stroke="#001080" stroke-width="1.2"/>
<path d="M557 521.3L559.5 524L557 526.7L554.5 524Z" fill="#001080"/>
<text x="575" y="529.5" font-size="13.5" class="b" textLength="97.5" lengthAdjust="spacing">Prezzo per DDD</text>
</svg></body></html>
